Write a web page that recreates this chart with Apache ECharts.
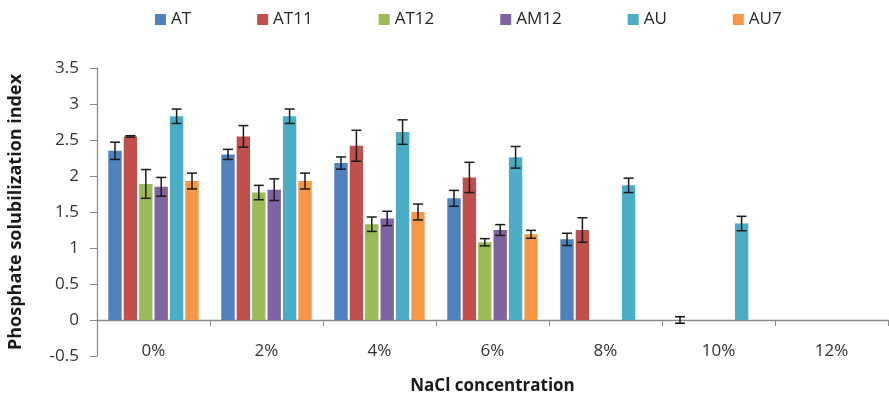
<!DOCTYPE html>
<html>
<head>
<meta charset="utf-8">
<title>Phosphate solubilization index vs NaCl concentration</title>
<script src="https://cdn.jsdelivr.net/npm/echarts@6/dist/echarts.min.js"></script>
<style>
  html, body { margin: 0; padding: 0; background: #ffffff; }
  #chart { width: 889px; height: 396px; }
</style>
</head>
<body>
<div id="chart"></div>
<script>
// NaCl concentration levels on the category axis
const categories = ['0%', '2%', '4%', '6%', '8%', '10%', '12%'];

// Mean phosphate solubilization index per isolate (null = no growth / not shown)
const AT   = [2.35, 2.30, 2.18, 1.69, 1.12, 0, null];
const AT11 = [2.55, 2.55, 2.42, 1.98, 1.25, null, null];
const AT12 = [1.89, 1.77, 1.33, 1.08, null, null, null];
const AM12 = [1.85, 1.81, 1.41, 1.25, null, null, null];
const AU   = [2.83, 2.83, 2.61, 2.26, 1.87, 1.34, null];
const AU7  = [1.93, 1.93, 1.50, 1.19, null, null, null];

// Standard deviation (error bar half-length) per isolate
const AT_err   = [0.12, 0.07, 0.085, 0.11, 0.085, 0.045, null];
const AT11_err = [0.01, 0.15, 0.215, 0.21, 0.17, null, null];
const AT12_err = [0.20, 0.10, 0.10, 0.05, null, null, null];
const AM12_err = [0.13, 0.15, 0.10, 0.075, null, null, null];
const AU_err   = [0.10, 0.10, 0.17, 0.15, 0.10, 0.10, null];
const AU7_err  = [0.11, 0.11, 0.11, 0.055, null, null, null];

// Y axis tick range
const yMin = -0.5, yMax = 3.5, yStep = 0.5;

const seriesNames = ['AT', 'AT11', 'AT12', 'AM12', 'AU', 'AU7'];
const seriesValues = [AT, AT11, AT12, AM12, AU, AU7];
const seriesErrors = [AT_err, AT11_err, AT12_err, AM12_err, AU_err, AU7_err];
const colors = ['#4F81BD', '#C0504D', '#9BBB59', '#8064A2', '#4BACC6', '#F79646'];

const FONT = '"Open Sans", "DejaVu Sans", sans-serif';
const CAT_GAP = 0.20;   // barCategoryGap as a fraction of the band
const BAR_GAP = 0.15;   // barGap as a fraction of bar width
const N = seriesNames.length;

// Error bars placed over the matching bar inside each category band
function errorRenderer(seriesIndex) {
  return function (params, api) {
    const cat = api.value(0);
    const val = api.value(1);
    const err = api.value(2);
    const bw = api.size([1, 0])[0];
    const w = (bw * (1 - CAT_GAP)) / (N + (N - 1) * BAR_GAP);
    const total = N * w + (N - 1) * BAR_GAP * w;
    const dx = -total / 2 + seriesIndex * w * (1 + BAR_GAP) + w / 2;
    const hi = api.coord([cat, val + err]);
    const lo = api.coord([cat, val - err]);
    const x = hi[0] + dx;
    const cap = 5;
    const style = { stroke: '#1a1a1a', lineWidth: 1.5 };
    return {
      type: 'group',
      children: [
        { type: 'line', shape: { x1: x, y1: hi[1], x2: x, y2: lo[1] }, style: style },
        { type: 'line', shape: { x1: x - cap, y1: hi[1], x2: x + cap, y2: hi[1] }, style: style },
        { type: 'line', shape: { x1: x - cap, y1: lo[1], x2: x + cap, y2: lo[1] }, style: style }
      ]
    };
  };
}

const series = [];
seriesNames.forEach(function (name, i) {
  series.push({
    name: name,
    type: 'bar',
    data: seriesValues[i],
    barCategoryGap: (CAT_GAP * 100) + '%',
    barGap: (BAR_GAP * 100) + '%',
    itemStyle: { color: colors[i] }
  });
});
seriesNames.forEach(function (name, i) {
  const data = [];
  seriesValues[i].forEach(function (v, k) {
    const e = seriesErrors[i][k];
    if (v !== null && e !== null) data.push([k, v, e]);
  });
  series.push({
    name: name + ' error',
    type: 'custom',
    renderItem: errorRenderer(i),
    data: data,
    encode: { x: 0, y: 1 },
    z: 10,
    silent: true
  });
});

const chart = echarts.init(document.getElementById('chart'), null, { renderer: 'canvas' });
chart.setOption({
  backgroundColor: '#ffffff',
  animation: false,
  textStyle: { fontFamily: FONT },
  legend: {
    data: seriesNames,
    top: 6,
    left: 150,
    itemWidth: 11,
    itemHeight: 11,
    itemGap: 66,
    icon: 'rect',
    textStyle: { fontFamily: FONT, fontSize: 17, color: '#262626' }
  },
  grid: { left: 97, right: 1, top: 68, bottom: 40, containLabel: false, outerBoundsMode: 'none' },
  xAxis: {
    type: 'category',
    data: categories,
    name: 'NaCl concentration',
    nameLocation: 'middle',
    nameGap: 22,
    nameTextStyle: { fontFamily: FONT, fontSize: 17, fontWeight: 'bold', color: '#1a1a1a' },
    axisLine: { onZero: true, lineStyle: { color: '#8c8c8c', width: 1.3 } },
    axisTick: { show: true, length: 6, lineStyle: { color: '#8c8c8c' } },
    axisLabel: { margin: -13, fontFamily: FONT, fontSize: 17, color: '#333333' },
    splitLine: { show: false }
  },
  yAxis: {
    type: 'value',
    min: yMin,
    max: yMax,
    interval: yStep,
    name: 'Phosphate solubilization index',
    nameLocation: 'middle',
    nameGap: 72,
    nameTextStyle: { fontFamily: FONT, fontSize: 18, fontWeight: 'bold', color: '#1a1a1a' },
    axisLine: { show: true, lineStyle: { color: '#8c8c8c', width: 1.3 } },
    axisTick: { show: true, length: 7, lineStyle: { color: '#8c8c8c' } },
    axisLabel: { margin: 18, fontFamily: FONT, fontSize: 17, color: '#333333' },
    splitLine: { show: false }
  },
  series: series
});
</script>
</body>
</html>
